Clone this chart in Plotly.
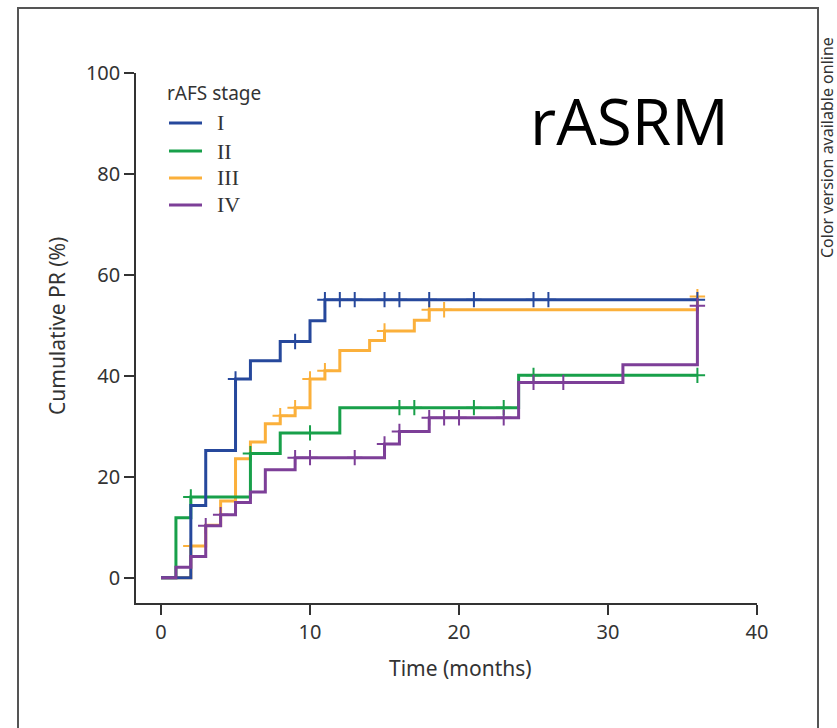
import plotly.graph_objects as go
import numpy as np

# ---- data ----
stages = ["I", "II", "III", "IV"]
colors = ["#26489c", "#18a04a", "#fbb03b", "#7d3f98"]

t_I = [0, 2, 3, 5, 6, 8, 10, 11, 36]
pr_I = [0, 14.3, 25.2, 39.4, 43.0, 46.8, 50.9, 55.1, 55.1]
cens_I = [5, 9, 11, 12, 13, 15, 16, 18, 21, 25, 26, 36]

t_II = [0, 1, 2, 6, 8, 12, 24, 36]
pr_II = [0, 11.9, 16.0, 24.6, 28.7, 33.7, 40.1, 40.1]
cens_II = [2, 6, 10, 16, 17, 21, 23, 25, 36]

t_III = [0, 2, 3, 4, 5, 6, 7, 8, 9, 10, 11, 12, 14, 15, 17, 18, 36]
pr_III = [0, 6.3, 10.4, 15.2, 23.6, 26.9, 30.5, 32.1, 33.7, 39.4, 41.0, 45.0, 47.0, 48.9, 51.0, 53.1, 55.7]
cens_III = [2, 8, 9, 10, 11, 15, 18, 19, 36]

t_IV = [0, 1, 2, 3, 4, 5, 6, 7, 9, 15, 16, 18, 24, 31, 36]
pr_IV = [0, 2.1, 4.2, 10.3, 12.5, 14.9, 17.0, 21.4, 23.8, 26.5, 29.0, 31.7, 38.7, 42.2, 53.9]
cens_IV = [3, 4, 9, 10, 13, 15, 16, 18, 19, 20, 23, 25, 27, 36]

x_ticks = [0, 10, 20, 30, 40]
y_ticks = [0, 20, 40, 60, 80, 100]

series = {
    "I": (t_I, pr_I, cens_I),
    "II": (t_II, pr_II, cens_II),
    "III": (t_III, pr_III, cens_III),
    "IV": (t_IV, pr_IV, cens_IV),
}
color_of = dict(zip(stages, colors))

def step_value(t, v, x):
    idx = np.searchsorted(np.array(t), x, side="right") - 1
    return v[max(idx, 0)]

fig = go.Figure()
for s in ["III", "II", "I", "IV"]:
    t, v, c = series[s]
    col = color_of[s]
    fig.add_trace(go.Scatter(x=t, y=v, mode="lines", line=dict(color=col, width=3, shape="hv"),
                             name=s, showlegend=False))
    fig.add_trace(go.Scatter(x=c, y=[step_value(t, v, xc) for xc in c], mode="markers",
                             marker=dict(symbol="cross-thin", size=11, color=col,
                                         line=dict(color=col, width=2)),
                             showlegend=False, hoverinfo="skip"))

tick_font = dict(family="Noto Sans, Open Sans, sans-serif", size=20, color="#333")
title_font = dict(family="Noto Sans, Open Sans, sans-serif", size=21, color="#333")

fig.update_xaxes(range=[-1.68, 40], tickvals=x_ticks, showline=True, linecolor="#333", linewidth=1.5,
                 ticks="outside", ticklen=10, tickcolor="#333", tickwidth=1.5, showgrid=False,
                 zeroline=False, tickfont=tick_font)
fig.update_yaxes(range=[-5, 100], tickvals=y_ticks, showline=True, linecolor="#333", linewidth=1.5,
                 ticks="outside", ticklen=10, tickcolor="#333", tickwidth=1.5, showgrid=False,
                 zeroline=False, tickfont=tick_font)

L, R, T, B = 136, 80, 73, 125
W, H = 837, 728
pw, ph = W - L - R, H - T - B

def px(xp):
    return (xp - L) / pw

def py(yp):
    return (H - B - yp) / ph

annotations = [
    dict(text="Time (months)", x=px(460), y=py(668), xref="paper", yref="paper",
         showarrow=False, font=title_font, xanchor="center", yanchor="middle"),
    dict(text="Cumulative PR (%)", x=px(57), y=py(326), xref="paper", yref="paper",
         showarrow=False, font=title_font, textangle=-90, xanchor="center", yanchor="middle"),
    dict(text="rASRM", x=px(528), y=py(120), xref="paper", yref="paper", showarrow=False,
         font=dict(family="Open Sans, sans-serif", size=64, color="#000"), xanchor="left",
         yanchor="middle"),
    dict(text="Color version available online", x=px(827), y=py(148), xref="paper", yref="paper",
         showarrow=False, font=dict(family="Noto Sans, sans-serif", size=16, color="#333"),
         textangle=-90, xanchor="center", yanchor="middle"),
    dict(text="rAFS stage", x=px(165), y=py(93), xref="paper", yref="paper", showarrow=False,
         font=dict(family="Noto Sans, sans-serif", size=19, color="#333"), xanchor="left",
         yanchor="middle"),
]
shapes = []
leg_y = [123, 151, 178, 205]
for s, yy in zip(stages, leg_y):
    shapes.append(dict(type="line", xref="paper", yref="paper", x0=px(169), x1=px(202),
                       y0=py(yy), y1=py(yy), line=dict(color=color_of[s], width=3)))
    annotations.append(dict(text=s, x=px(215), y=py(yy), xref="paper", yref="paper",
                            showarrow=False, xanchor="left", yanchor="middle",
                            font=dict(family="Liberation Serif, serif", size=22, color="#333")))

# outer frame
shapes.append(dict(type="rect", xref="paper", yref="paper", x0=px(18), x1=px(818),
                   y0=py(760), y1=py(8), line=dict(color="#555", width=2), fillcolor="rgba(0,0,0,0)",
                   layer="below"))

fig.update_layout(width=W, height=H, margin=dict(l=L, r=R, t=T, b=B),
                  plot_bgcolor="white", paper_bgcolor="white",
                  annotations=annotations, shapes=shapes, showlegend=False)

fig.write_html("out.html")
